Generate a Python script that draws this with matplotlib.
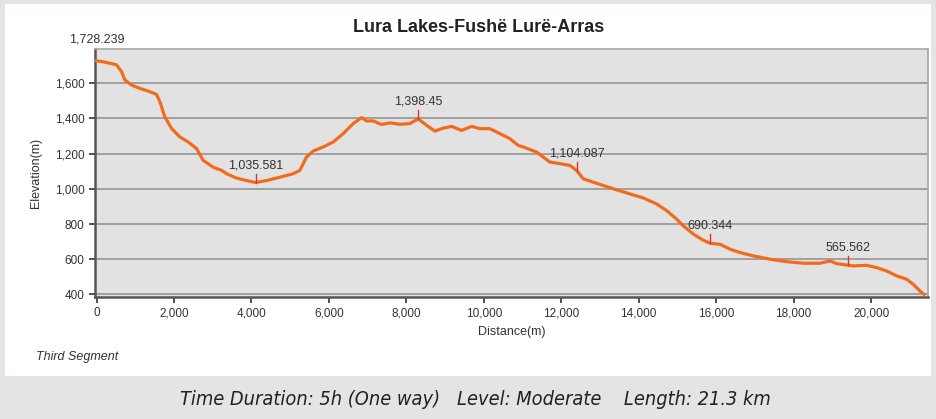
import matplotlib.pyplot as plt
from matplotlib.ticker import FuncFormatter
from matplotlib.patches import Rectangle

plt.rcParams['font.family'] = ['Liberation Sans', 'DejaVu Sans']

# profile: distance (m), elevation (m)
distance = [0, 170, 343, 516, 646, 731, 904, 1118, 1333, 1550, 1635, 1764, 1937,
            2151, 2366, 2583, 2753, 3011, 3228, 3357, 3616, 3874, 4110, 4390, 4734,
            5078, 5250, 5424, 5594, 5852, 6111, 6369, 6627, 6844, 6973, 7144, 7360,
            7575, 7833, 8092, 8306, 8523, 8737, 8952, 9168, 9427, 9685, 9899, 10157,
            10416, 10674, 10888, 11018, 11364, 11707, 11966, 12224, 12400, 12567,
            12826, 13084, 13430, 13773, 14117, 14463, 14721, 14979, 15150, 15408,
            15666, 15850, 16097, 16356, 16614, 16957, 17389, 17820, 18249, 18680,
            18938, 19111, 19400, 19540, 19886, 20145, 20403, 20661, 20919, 21090,
            21262, 21366]
elevation = [1728, 1722, 1714, 1705, 1666, 1619, 1590, 1571, 1556, 1537, 1495, 1409,
             1343, 1295, 1266, 1229, 1162, 1123, 1105, 1086, 1061, 1047, 1036, 1047,
             1066, 1086, 1105, 1181, 1215, 1238, 1266, 1314, 1371, 1405, 1386, 1386,
             1366, 1375, 1367, 1371, 1398, 1361, 1328, 1345, 1355, 1332, 1355, 1342,
             1342, 1314, 1285, 1247, 1238, 1209, 1152, 1143, 1133, 1104, 1057, 1038,
             1019, 994, 971, 948, 914, 876, 828, 790, 743, 708, 690, 685, 657, 638,
             619, 600, 586, 577, 577, 590, 575, 566, 562, 565, 552, 533, 505, 486,
             457, 419, 400]

# labelled points
mark_x = [0, 4110, 8306, 12400, 15850, 19400]
mark_y = [1728.239, 1035.581, 1398.45, 1104.087, 690.344, 565.562]
mark_text = ['1,728.239', '1,035.581', '1,398.45', '1,104.087', '690.344', '565.562']

x_ticks = list(range(0, 20001, 2000))
y_ticks = list(range(400, 1601, 200))

fig = plt.figure(figsize=(9.36, 4.19), dpi=100)
fig.patch.set_facecolor('#e3e5e2')
# white card behind the chart
fig.patches.append(Rectangle((5 / 936, 1 - 376 / 419), 926 / 936, 372 / 419,
                             transform=fig.transFigure, facecolor='white',
                             edgecolor='none', zorder=-10))

ax = fig.add_axes([95 / 936, 1 - 297 / 419, 833 / 936, 248 / 419])
ax.set_zorder(2)
ax.set_facecolor('#e2e2e2')
ax.plot(distance, elevation, color='#f26b1d', lw=2.3, zorder=3)

for mx, my, mt in zip(mark_x, mark_y, mark_text):
    if mx > 0:
        ax.plot([mx, mx], [my, my + 50], color='#d83a1a', lw=1, zorder=4)
        ax.text(mx, my + 65, mt, ha='center', va='bottom', fontsize=9, color='#333333')
    else:
        ax.text(mx, 1815, mt, ha='center', va='bottom', fontsize=9, color='#333333',
                clip_on=False)

ax.set_xlim(-40, 21470)
ax.set_ylim(385, 1795)
ax.set_xticks(x_ticks)
ax.set_yticks(y_ticks)
fmt = FuncFormatter(lambda v, p: f'{int(v):,}')
ax.xaxis.set_major_formatter(fmt)
ax.yaxis.set_major_formatter(fmt)
ax.tick_params(labelsize=8.5, colors='#333333', length=4, width=1.2)
ax.grid(axis='y', color='#9a9a9a', lw=1.3)
ax.set_axisbelow(True)

for side in ['left', 'bottom']:
    ax.spines[side].set_color('#555555')
    ax.spines[side].set_linewidth(1.8)
for side in ['top', 'right']:
    ax.spines[side].set_color('#a8a8a8')
    ax.spines[side].set_linewidth(1.2)

ax.set_xlabel('Distance(m)', fontsize=9, color='#333333', labelpad=5)
ax.set_ylabel('Elevation(m)', fontsize=9, color='#333333', labelpad=9)

fig.text(479 / 936, 1 - 28 / 419, 'Lura Lakes-Fushë Lurë-Arras', ha='center',
         va='center', fontsize=13, fontweight='bold', color='#222222')
fig.text(36 / 936, 1 - 357 / 419, 'Third Segment', ha='left', va='center',
         fontsize=9, style='italic', color='#333333')
fig.text(475 / 936, 1 - 399 / 419,
         'Time Duration: 5h (One way)   Level: Moderate    Length: 21.3 km',
         ha='center', va='center', fontsize=14.3, style='italic', color='#222222',
         family=['DejaVu Sans'], fontstretch='condensed')

plt.savefig('out.png', dpi=100, facecolor=fig.get_facecolor())
